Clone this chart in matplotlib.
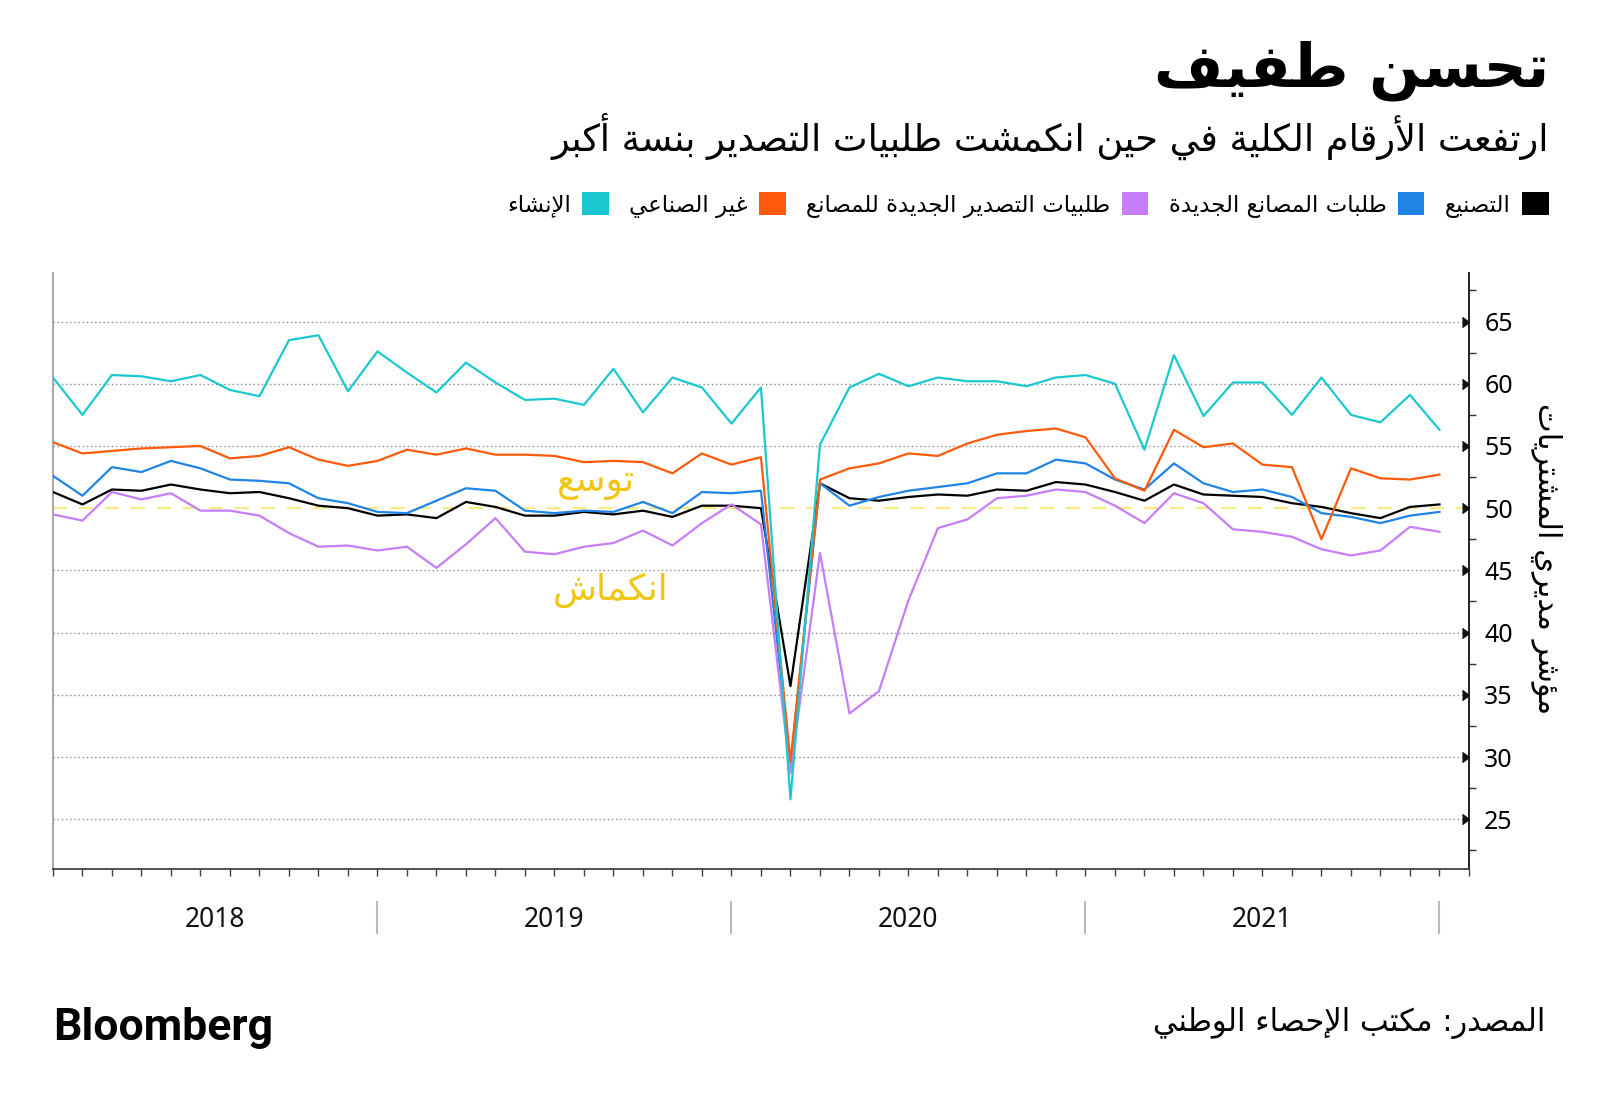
import matplotlib
matplotlib.use("Agg")
import matplotlib.pyplot as plt
from matplotlib.patches import Patch
import numpy as np

# Arabic letters -> (first presentation form, number of forms)
AR_FORMS = {
    "\u0621": (0xFE80, 1), "\u0622": (0xFE81, 2), "\u0623": (0xFE83, 2),
    "\u0624": (0xFE85, 2), "\u0625": (0xFE87, 2), "\u0626": (0xFE89, 4),
    "\u0627": (0xFE8D, 2), "\u0628": (0xFE8F, 4), "\u0629": (0xFE93, 2),
    "\u062A": (0xFE95, 4), "\u062B": (0xFE99, 4), "\u062C": (0xFE9D, 4),
    "\u062D": (0xFEA1, 4), "\u062E": (0xFEA5, 4), "\u062F": (0xFEA9, 2),
    "\u0630": (0xFEAB, 2), "\u0631": (0xFEAD, 2), "\u0632": (0xFEAF, 2),
    "\u0633": (0xFEB1, 4), "\u0634": (0xFEB5, 4), "\u0635": (0xFEB9, 4),
    "\u0636": (0xFEBD, 4), "\u0637": (0xFEC1, 4), "\u0638": (0xFEC5, 4),
    "\u0639": (0xFEC9, 4), "\u063A": (0xFECD, 4), "\u0641": (0xFED1, 4),
    "\u0642": (0xFED5, 4), "\u0643": (0xFED9, 4), "\u0644": (0xFEDD, 4),
    "\u0645": (0xFEE1, 4), "\u0646": (0xFEE5, 4), "\u0647": (0xFEE9, 4),
    "\u0648": (0xFEED, 2), "\u0649": (0xFEEF, 2), "\u064A": (0xFEF1, 4),
}
LAM_ALEF = {"\u0622": 0xFEF5, "\u0623": 0xFEF7, "\u0625": 0xFEF9, "\u0627": 0xFEFB}


def ar(text):
    # shape arabic letters and put them in visual (left to right) order
    out = []
    i = 0
    n = len(text)
    while i < n:
        c = text[i]
        if c not in AR_FORMS:
            out.append(c)
            i += 1
            continue
        prev = text[i - 1] if i > 0 else ""
        joins_prev = prev in AR_FORMS and AR_FORMS[prev][1] == 4
        if c == "\u0644" and i + 1 < n and text[i + 1] in LAM_ALEF:
            out.append(chr(LAM_ALEF[text[i + 1]] + (1 if joins_prev else 0)))
            i += 2
            continue
        start, k = AR_FORMS[c]
        nxt = text[i + 1] if i + 1 < n else ""
        joins_next = k == 4 and nxt in AR_FORMS
        if k == 1:
            form = 0
        elif joins_prev and joins_next:
            form = 3
        elif joins_next:
            form = 2
        elif joins_prev:
            form = 1
        else:
            form = 0
        out.append(chr(start + form))
        i += 1
    return "".join(reversed(out))


# monthly data, Jan 2018 - Dec 2021
years = ["2018", "2019", "2020", "2021"]
year_label_pos = [5.5, 17, 29, 41]

manufacturing = [51.3, 50.3, 51.5, 51.4, 51.9, 51.5, 51.2, 51.3, 50.8, 50.2, 50.0, 49.4,
                 49.5, 49.2, 50.5, 50.1, 49.4, 49.4, 49.7, 49.5, 49.8, 49.3, 50.2, 50.2,
                 50.0, 35.7, 52.0, 50.8, 50.6, 50.9, 51.1, 51.0, 51.5, 51.4, 52.1, 51.9,
                 51.3, 50.6, 51.9, 51.1, 51.0, 50.9, 50.4, 50.1, 49.6, 49.2, 50.1, 50.3]
new_orders = [52.6, 51.0, 53.3, 52.9, 53.8, 53.2, 52.3, 52.2, 52.0, 50.8, 50.4, 49.7,
              49.6, 50.6, 51.6, 51.4, 49.8, 49.6, 49.8, 49.7, 50.5, 49.6, 51.3, 51.2,
              51.4, 29.3, 52.0, 50.2, 50.9, 51.4, 51.7, 52.0, 52.8, 52.8, 53.9, 53.6,
              52.3, 51.5, 53.6, 52.0, 51.3, 51.5, 50.9, 49.6, 49.3, 48.8, 49.4, 49.7]
export_orders = [49.5, 49.0, 51.3, 50.7, 51.2, 49.8, 49.8, 49.4, 48.0, 46.9, 47.0, 46.6,
                 46.9, 45.2, 47.1, 49.2, 46.5, 46.3, 46.9, 47.2, 48.2, 47.0, 48.8, 50.3,
                 48.7, 28.7, 46.4, 33.5, 35.3, 42.6, 48.4, 49.1, 50.8, 51.0, 51.5, 51.3,
                 50.2, 48.8, 51.2, 50.4, 48.3, 48.1, 47.7, 46.7, 46.2, 46.6, 48.5, 48.1]
non_manufacturing = [55.3, 54.4, 54.6, 54.8, 54.9, 55.0, 54.0, 54.2, 54.9, 53.9, 53.4, 53.8,
                     54.7, 54.3, 54.8, 54.3, 54.3, 54.2, 53.7, 53.8, 53.7, 52.8, 54.4, 53.5,
                     54.1, 29.6, 52.3, 53.2, 53.6, 54.4, 54.2, 55.2, 55.9, 56.2, 56.4, 55.7,
                     52.4, 51.4, 56.3, 54.9, 55.2, 53.5, 53.3, 47.5, 53.2, 52.4, 52.3, 52.7]
construction = [60.5, 57.5, 60.7, 60.6, 60.2, 60.7, 59.5, 59.0, 63.5, 63.9, 59.4, 62.6,
                60.9, 59.3, 61.7, 60.1, 58.7, 58.8, 58.3, 61.2, 57.7, 60.5, 59.7, 56.8,
                59.7, 26.6, 55.1, 59.7, 60.8, 59.8, 60.5, 60.2, 60.2, 59.8, 60.5, 60.7,
                60.0, 54.7, 62.3, 57.4, 60.1, 60.1, 57.5, 60.5, 57.5, 56.9, 59.1, 56.3]

series_names = ["التصنيع", "طلبات المصانع الجديدة", "طلبيات التصدير الجديدة للمصانع",
                "غير الصناعي", "الإنشاء"]
series_values = [manufacturing, new_orders, export_orders, non_manufacturing, construction]
colors = ["#000000", "#1f84e6", "#c77df7", "#ff5a0a", "#1cc8cf"]

yticks = [25, 30, 35, 40, 45, 50, 55, 60, 65]

months = np.arange(len(manufacturing))

fig = plt.figure(figsize=(16, 11.08), dpi=100)
ax = fig.add_axes([0.0331, 0.2157, 0.885, 0.5379])

# dotted grid, except at 50 where the yellow dashed line sits
for v in yticks:
    if v != 50:
        ax.axhline(v, color="#8a8a8a", ls=(0, (1, 2)), lw=1, zorder=1)
ax.axhline(50, color="#f5ec86", lw=1.7, ls=(0, (6, 5)), zorder=1)
for vals, c in zip(series_values, colors):
    ax.plot(months, vals, color=c, lw=1.6, zorder=3)

ax.set_xlim(0, 48)
ax.set_ylim(21.0, 68.9)

ax.yaxis.tick_right()
ax.set_yticks(yticks)
ax.set_yticks(np.arange(22.5, 68, 5), minor=True)
ax.set_yticklabels([str(v) for v in yticks], fontsize=18, family="Noto Sans")
ax.tick_params(axis="y", which="major", length=0, pad=11)
ax.tick_params(axis="y", which="minor", length=5, width=1, color="#333333", direction="out")
for v in yticks:
    ax.plot(1, v, marker=5, ms=7, color="#111111", transform=ax.get_yaxis_transform(),
            clip_on=False, zorder=5)

ax.set_xticks([])
ax.set_xticks(np.arange(0, 49), minor=True)
ax.tick_params(axis="x", which="minor", length=5, width=1, color="#444444", direction="out")

ax.spines["top"].set_visible(False)
ax.spines["left"].set_color("#aaaaaa")
ax.spines["left"].set_linewidth(1.5)
ax.spines["right"].set_color("#111111")
ax.spines["right"].set_linewidth(1.3)
ax.spines["bottom"].set_color("#333333")
ax.spines["bottom"].set_linewidth(1.2)

# year labels and separators
xt = ax.get_xaxis_transform()
for k, yr in enumerate(years):
    ax.text(year_label_pos[k], -0.085, yr, transform=xt, ha="center", va="center",
            fontsize=19, family="Noto Sans", color="#111111")
    ax.plot([12 * k + 11] * 2, [-0.055, -0.107], transform=xt, color="#bbbbbb",
            lw=1.5, clip_on=False)

ax.text(18.4, 52.0, ar("توسع"), ha="center", va="center", fontsize=26, color="#f2c511")
ax.text(18.9, 43.4, ar("انكماش"), ha="center", va="center", fontsize=26, color="#f2c511")

fig.text(0.966, 0.4955, ar("مؤشر مديري المشتريات"), rotation=270, ha="center",
         va="center", fontsize=22)

fig.text(0.968, 0.936, ar("تحسن طفيف"), ha="right", va="center", fontsize=43,
         fontweight="bold")
fig.text(0.968, 0.877, ar("ارتفعت الأرقام الكلية في حين انكمشت طلبيات التصدير بنسة أكبر"),
         ha="right", va="center", fontsize=26.5)

handles = [Patch(facecolor=c, edgecolor="none") for c in colors][::-1]
labels = [ar(s) for s in series_names][::-1]
fig.legend(handles, labels, loc="center right", bbox_to_anchor=(0.968, 0.815), ncol=5,
           frameon=False, markerfirst=False, fontsize=16.5, handlelength=1.15,
           handleheight=1.15, handletextpad=0.5, columnspacing=0.9, borderpad=0,
           borderaxespad=0)

fig.text(0.966, 0.077, ar("المصدر: مكتب الإحصاء الوطني"), ha="right", va="center",
         fontsize=22)
fig.text(0.033, 0.072, "Bloomberg", ha="left", va="center", fontsize=32,
         fontweight="bold", family="Roboto")

fig.savefig("out.png", dpi=100)
